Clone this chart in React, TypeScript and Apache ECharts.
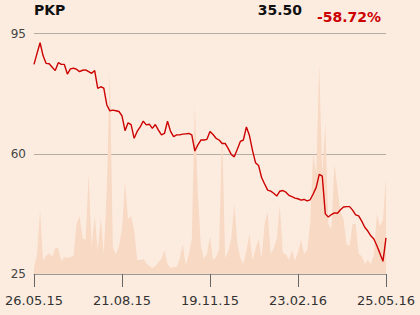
import React, { useEffect, useRef } from "react";
import * as echarts from "echarts";

const ticker = "PKP";
const lastPrice = "35.50";
const changePct = "-58.72%";

const xTickLabels = ["26.05.15", "21.08.15", "19.11.15", "23.02.16", "25.05.16"];
const yTickValues = [25, 60, 95];

const prices = [
  86.0, 89.2, 92.3, 88.5, 86.3, 86.2, 85.2, 84.2, 86.5, 86.0,
  86.0, 83.2, 84.7, 84.9, 84.6, 83.9, 84.3, 84.4, 83.9, 83.4,
  84.2, 79.0, 79.5, 79.1, 74.2, 72.5, 72.7, 72.5, 72.3, 71.0,
  66.7, 69.0, 68.5, 64.5, 66.5, 67.8, 69.5, 68.4, 68.6, 67.4,
  68.5, 66.9, 65.5, 65.9, 69.5, 66.5, 65.0, 65.5, 65.5, 65.7,
  65.8, 65.9, 65.5, 60.8, 62.6, 64.0, 64.0, 64.2, 66.5, 65.6,
  64.5, 64.0, 63.0, 63.0, 61.5, 59.8, 59.1, 61.3, 63.6, 64.0,
  67.8, 65.3, 61.0, 57.4, 56.6, 53.1, 51.2, 49.4, 49.1, 48.5,
  47.7, 49.1, 49.3, 48.8, 47.9, 47.5, 47.1, 46.9, 46.5, 46.7,
  46.3, 46.6, 48.3, 50.2, 54.0, 53.5, 42.5, 41.6, 42.3, 42.8,
  42.7, 43.7, 44.5, 44.6, 44.6, 43.6, 42.2, 41.9, 40.4, 38.6,
  37.5, 36.1, 35.2, 33.2, 31.0, 28.7, 35.5,
];

const volumes = [
  6, 20, 64, 14, 18, 21, 17, 26, 26, 13,
  17, 16, 17, 18, 50, 58, 36, 34, 100, 28,
  58, 24, 56, 20, 85, 205, 26, 20, 28, 45,
  92, 55, 58, 44, 14, 14, 15, 11, 8, 6,
  8, 12, 15, 24, 10, 6, 7, 7, 15, 30,
  9, 19, 35, 170, 80, 28, 15, 20, 38, 14,
  17, 25, 145, 16, 23, 35, 70, 31, 16, 10,
  24, 40, 14, 25, 35, 16, 50, 62, 20, 26,
  35, 69, 21, 20, 14, 24, 13, 22, 34, 20,
  24, 50, 120, 100, 210, 100, 150, 50, 45, 110,
  86, 62, 55, 30, 28, 50, 50, 20, 18, 10,
  14, 10, 19, 60, 48, 54, 97,
];

export default function App() {
  const ref = useRef<HTMLDivElement>(null);

  useEffect(() => {
    if (!ref.current) return;
    const chart = echarts.init(ref.current, undefined, { renderer: "svg" });
    const n = prices.length;
    const step = (n - 1) / (xTickLabels.length - 1);
    const font = "DejaVu Sans";
    chart.setOption({
      animation: false,
      backgroundColor: "#fcece0",
      textStyle: { fontFamily: font },
      grid: { left: 34, right: 34, top: 33.5, bottom: 41 },
      graphic: [
        {
          type: "text",
          left: 34,
          top: 3,
          style: { text: ticker, font: `bold 14px ${font}`, fill: "#111" },
        },
        {
          type: "text",
          x: 302,
          y: 9.5,
          style: {
            text: lastPrice,
            font: `bold 14px ${font}`,
            fill: "#111",
            textAlign: "right",
            textVerticalAlign: "middle",
          },
        },
        {
          type: "text",
          x: 381,
          y: 16.5,
          style: {
            text: changePct,
            font: `bold 14px ${font}`,
            fill: "#cc0000",
            textAlign: "right",
            textVerticalAlign: "middle",
          },
        },
      ],
      xAxis: {
        type: "value",
        min: 0,
        max: n - 1,
        interval: step,
        axisLine: { show: true, lineStyle: { color: "#9a9a9a", width: 1 } },
        axisTick: { show: true, length: 13, lineStyle: { color: "#666" } },
        splitLine: { show: false },
        axisLabel: {
          fontSize: 13,
          color: "#333",
          margin: 20,
          fontFamily: font,
          formatter: (v: number) => xTickLabels[Math.round(v / step)] ?? "",
        },
      },
      yAxis: [
        {
          type: "value",
          min: 25,
          max: 95,
          axisLine: { show: false },
          axisTick: { show: false, customValues: yTickValues },
          axisLabel: {
            customValues: yTickValues,
            fontSize: 12,
            color: "#444",
            margin: 8,
            fontFamily: font,
          },
          splitLine: { show: true, lineStyle: { color: "#b5aca4", width: 1 } },
        },
        {
          type: "value",
          min: 0,
          max: 240,
          show: false,
          splitLine: { show: false },
        },
      ],
      series: [
        {
          type: "line",
          yAxisIndex: 1,
          data: volumes.map((v, i) => [i, v]),
          symbol: "none",
          lineStyle: { width: 0 },
          areaStyle: { color: "#f8d9c4", opacity: 1 },
          silent: true,
          z: 1,
        },
        {
          type: "line",
          yAxisIndex: 0,
          data: prices.map((v, i) => [i, v]),
          symbol: "none",
          lineStyle: { color: "#cc0000", width: 1.4 },
          z: 3,
        },
      ],
    });
    return () => chart.dispose();
  }, []);

  return (
    <div
      ref={ref}
      style={{ position: "fixed", left: 0, top: 0, width: 420, height: 315 }}
    />
  );
}
